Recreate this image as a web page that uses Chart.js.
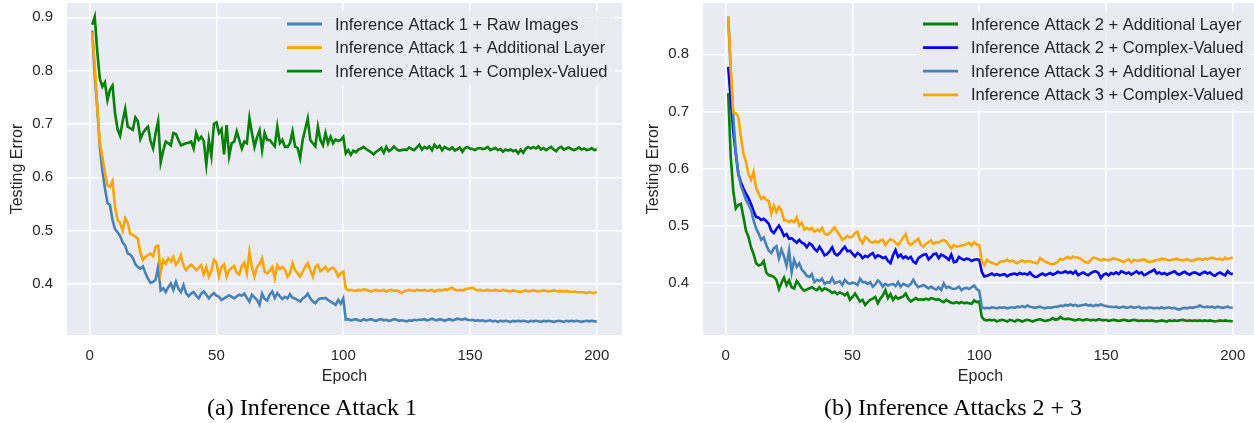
<!DOCTYPE html>
<html>
<head>
<meta charset="utf-8">
<script src="https://cdn.jsdelivr.net/npm/chart.js@4.4.0/dist/chart.umd.min.js"></script>
<style>
  body { margin: 0; width: 1254px; height: 423px; overflow: hidden; background: #fff; position: relative; }
  .panel { position: absolute; top: 0; width: 625px; height: 395px; }
  .caption { position: absolute; top: 395px; font-family: "Liberation Serif", serif; font-size: 24px; line-height: 24px; color: #000; white-space: nowrap; transform: translateX(-50%); }
</style>
</head>
<body>
<div class="panel" style="left:0"><canvas id="chartA" width="625" height="395"></canvas></div>
<div class="panel" style="left:636px"><canvas id="chartB" width="625" height="395"></canvas></div>
<div class="caption" style="left:312px">(a) Inference Attack 1</div>
<div class="caption" style="left:953px">(b) Inference Attacks 2 + 3</div>
<script>
// Data

const epochs = Array.from({ length: 200 }, (_, i) => i + 1)
const xTicks = [0, 50, 100, 150, 200]
const yTicksA = [0.4, 0.5, 0.6, 0.7, 0.8, 0.9]
const yTicksB = [0.4, 0.5, 0.6, 0.7, 0.8]

const labelsA = ['Inference Attack 1 + Raw Images', 'Inference Attack 1 + Additional Layer', 'Inference Attack 1 + Complex-Valued']
const labelsB = ['Inference Attack 2 + Additional Layer', 'Inference Attack 2 + Complex-Valued', 'Inference Attack 3 + Additional Layer', 'Inference Attack 3 + Complex-Valued']

const attack1Raw = [
  0.875, 0.79, 0.73, 0.657, 0.612, 0.58, 0.552, 0.548, 0.52, 0.503,
  0.497, 0.49, 0.478, 0.472, 0.457, 0.455, 0.449, 0.437, 0.432, 0.429,
  0.433, 0.42, 0.41, 0.402, 0.404, 0.408, 0.432, 0.388, 0.392, 0.385,
  0.394, 0.401, 0.389, 0.404, 0.391, 0.385, 0.398, 0.383, 0.377, 0.382,
  0.385, 0.378, 0.373, 0.382, 0.386, 0.38, 0.373, 0.379, 0.383, 0.378,
  0.376, 0.37, 0.373, 0.376, 0.379, 0.376, 0.373, 0.377, 0.38, 0.378,
  0.382, 0.374, 0.367, 0.38, 0.375, 0.37, 0.361, 0.382, 0.372, 0.369,
  0.38, 0.386, 0.374, 0.383, 0.377, 0.372, 0.376, 0.373, 0.381, 0.374,
  0.373, 0.37, 0.367, 0.373, 0.376, 0.382, 0.373, 0.367, 0.364, 0.37,
  0.373, 0.373, 0.374, 0.37, 0.367, 0.364, 0.361, 0.37, 0.363, 0.373,
  0.333, 0.334, 0.332, 0.333, 0.334, 0.332, 0.331, 0.334, 0.332, 0.333,
  0.334, 0.332, 0.331, 0.333, 0.334, 0.332, 0.333, 0.331, 0.332, 0.334,
  0.333, 0.331, 0.332, 0.331, 0.33, 0.332, 0.331, 0.333, 0.332, 0.333,
  0.333, 0.334, 0.332, 0.333, 0.335, 0.333, 0.332, 0.334, 0.333, 0.331,
  0.333, 0.334, 0.332, 0.333, 0.335, 0.334, 0.333, 0.335, 0.333, 0.332,
  0.333, 0.331, 0.332, 0.331, 0.332, 0.33, 0.331, 0.332, 0.33, 0.331,
  0.329, 0.331, 0.33, 0.331, 0.33, 0.329, 0.331, 0.33, 0.331, 0.33,
  0.331, 0.33, 0.329, 0.331, 0.33, 0.331, 0.33, 0.329, 0.331, 0.33,
  0.331, 0.33, 0.329, 0.33, 0.331, 0.33, 0.329, 0.331, 0.33, 0.331,
  0.33, 0.331, 0.33, 0.329, 0.33, 0.331, 0.33, 0.331, 0.33, 0.33
]

const attack1Layer = [
  0.873, 0.81, 0.73, 0.665, 0.638, 0.61, 0.585, 0.582, 0.593, 0.545,
  0.52, 0.515, 0.5, 0.523, 0.515, 0.494, 0.492, 0.489, 0.485, 0.458,
  0.445, 0.451, 0.454, 0.457, 0.452, 0.47, 0.472, 0.421, 0.445, 0.438,
  0.448, 0.442, 0.451, 0.436, 0.443, 0.454, 0.434, 0.426, 0.432, 0.436,
  0.432, 0.426, 0.43, 0.435, 0.418, 0.432, 0.414, 0.425, 0.445, 0.44,
  0.414, 0.432, 0.437, 0.414, 0.426, 0.43, 0.434, 0.421, 0.418, 0.433,
  0.44, 0.42, 0.46, 0.431, 0.414, 0.432, 0.437, 0.448, 0.423, 0.42,
  0.425, 0.432, 0.411, 0.435, 0.428, 0.432, 0.427, 0.414, 0.42, 0.439,
  0.426, 0.42, 0.414, 0.423, 0.432, 0.439, 0.426, 0.414, 0.432, 0.436,
  0.424, 0.427, 0.432, 0.424, 0.429, 0.431, 0.425, 0.414, 0.42, 0.423,
  0.392, 0.388, 0.389, 0.388, 0.387, 0.389, 0.388, 0.39, 0.389, 0.388,
  0.386, 0.388, 0.389, 0.387, 0.388, 0.389, 0.386, 0.388, 0.389, 0.387,
  0.388, 0.386, 0.383, 0.386, 0.388, 0.389, 0.388, 0.387, 0.389, 0.388,
  0.388, 0.389, 0.387, 0.388, 0.389, 0.386, 0.388, 0.389, 0.388, 0.39,
  0.389, 0.391, 0.393, 0.389, 0.388, 0.389, 0.388, 0.39, 0.391, 0.392,
  0.393, 0.39, 0.388, 0.389, 0.387, 0.388, 0.389, 0.387, 0.388, 0.389,
  0.388, 0.387, 0.389, 0.388, 0.387, 0.386, 0.388, 0.387, 0.386, 0.385,
  0.387, 0.388, 0.386, 0.387, 0.388, 0.387, 0.386, 0.387, 0.388, 0.387,
  0.386, 0.387, 0.388, 0.387, 0.386, 0.387, 0.386, 0.387, 0.386, 0.385,
  0.386, 0.385, 0.384, 0.385, 0.384, 0.383, 0.385, 0.384, 0.383, 0.385
]

const attack1Complex = [
  0.886, 0.901, 0.835, 0.785, 0.77, 0.778, 0.745, 0.764, 0.772, 0.72,
  0.69, 0.678, 0.705, 0.728, 0.695, 0.692, 0.689, 0.712, 0.705, 0.672,
  0.683, 0.69, 0.695, 0.668, 0.654, 0.683, 0.705, 0.628, 0.65, 0.667,
  0.664, 0.66, 0.683, 0.681, 0.67, 0.66, 0.662, 0.664, 0.665, 0.667,
  0.654, 0.683, 0.67, 0.676, 0.668, 0.624, 0.67, 0.64, 0.7, 0.703,
  0.683, 0.69, 0.643, 0.698, 0.64, 0.664, 0.667, 0.686, 0.67, 0.654,
  0.667, 0.664, 0.711, 0.683, 0.657, 0.675, 0.688, 0.651, 0.683, 0.67,
  0.67, 0.664, 0.658, 0.695, 0.664, 0.67, 0.657, 0.657, 0.664, 0.686,
  0.658, 0.655, 0.636, 0.67, 0.69, 0.71, 0.67, 0.664, 0.658, 0.695,
  0.67, 0.66, 0.683, 0.664, 0.676, 0.664, 0.671, 0.668, 0.67, 0.676,
  0.645, 0.651, 0.642, 0.65, 0.647, 0.652, 0.654, 0.657, 0.653, 0.65,
  0.647, 0.643, 0.648, 0.651, 0.655, 0.646, 0.657, 0.649, 0.652, 0.658,
  0.653, 0.65, 0.651, 0.652, 0.651, 0.656, 0.653, 0.651, 0.656, 0.661,
  0.652, 0.657, 0.654, 0.658, 0.651, 0.661, 0.655, 0.659, 0.651, 0.657,
  0.654, 0.652, 0.656, 0.65, 0.653, 0.656, 0.648, 0.655, 0.657, 0.654,
  0.653, 0.651, 0.654, 0.655, 0.653, 0.654, 0.657, 0.651, 0.653, 0.655,
  0.651, 0.653, 0.648, 0.652, 0.65, 0.652, 0.649, 0.651, 0.645, 0.652,
  0.646, 0.654, 0.657, 0.654, 0.657, 0.654, 0.658, 0.652, 0.655, 0.651,
  0.654, 0.657, 0.652, 0.649, 0.655, 0.657, 0.652, 0.654, 0.656, 0.653,
  0.651, 0.653, 0.656, 0.652, 0.654, 0.651, 0.652, 0.655, 0.651, 0.652
]

const attack2Layer = [
  0.732, 0.62, 0.56, 0.53, 0.536, 0.538, 0.515, 0.491, 0.48, 0.462,
  0.45, 0.434, 0.43, 0.432, 0.438, 0.418, 0.413, 0.412, 0.41, 0.405,
  0.389, 0.4, 0.409, 0.396, 0.404, 0.392, 0.39, 0.403, 0.397, 0.39,
  0.386, 0.388, 0.39, 0.392, 0.389, 0.387, 0.392, 0.386, 0.39, 0.388,
  0.386, 0.382, 0.384, 0.38, 0.383, 0.381, 0.378, 0.382, 0.37, 0.375,
  0.381, 0.374, 0.367, 0.37, 0.361, 0.366, 0.37, 0.372, 0.375, 0.364,
  0.372, 0.378, 0.387, 0.373, 0.38, 0.37, 0.376, 0.372, 0.374, 0.376,
  0.381, 0.372, 0.367, 0.37, 0.373, 0.37, 0.371, 0.37, 0.372, 0.37,
  0.373, 0.372, 0.37, 0.371, 0.368, 0.366, 0.37, 0.367, 0.365, 0.364,
  0.366, 0.364, 0.366, 0.364, 0.365, 0.364, 0.363, 0.369, 0.366, 0.367,
  0.34, 0.335, 0.334, 0.335, 0.334, 0.335, 0.332, 0.334, 0.335, 0.334,
  0.332, 0.335, 0.334, 0.332, 0.335, 0.334, 0.332, 0.334, 0.335, 0.334,
  0.332, 0.334, 0.335, 0.336, 0.334, 0.333, 0.334, 0.335, 0.338, 0.335,
  0.336, 0.34, 0.337, 0.336, 0.337, 0.336, 0.335, 0.334, 0.336, 0.335,
  0.334, 0.336, 0.335, 0.334, 0.335, 0.334, 0.336, 0.335, 0.334, 0.335,
  0.333, 0.334, 0.335, 0.334, 0.333, 0.334, 0.335, 0.334, 0.333, 0.334,
  0.335, 0.334, 0.333, 0.334, 0.333, 0.334, 0.333, 0.334, 0.333, 0.332,
  0.333, 0.334, 0.333, 0.332, 0.334, 0.333, 0.334, 0.333, 0.334, 0.335,
  0.334, 0.333, 0.334, 0.333, 0.334, 0.333, 0.334, 0.333, 0.334, 0.333,
  0.334, 0.333, 0.332, 0.333, 0.334, 0.333, 0.334, 0.333, 0.333, 0.332
]

const attack2Complex = [
  0.778, 0.72, 0.665, 0.625, 0.59, 0.576, 0.565, 0.556, 0.548, 0.538,
  0.525, 0.515, 0.514, 0.51, 0.512, 0.508, 0.503, 0.491, 0.487, 0.494,
  0.5, 0.492, 0.482, 0.485, 0.477, 0.478, 0.474, 0.47, 0.475, 0.47,
  0.468, 0.462, 0.469, 0.466, 0.459, 0.455, 0.463, 0.456, 0.448, 0.45,
  0.455, 0.462, 0.451, 0.448, 0.452, 0.458, 0.463, 0.455, 0.456, 0.451,
  0.446, 0.452, 0.449, 0.443, 0.447, 0.445, 0.449, 0.452, 0.444, 0.448,
  0.446, 0.443, 0.445, 0.438, 0.434, 0.448, 0.457, 0.445, 0.449, 0.443,
  0.446, 0.442, 0.445, 0.437, 0.434, 0.443, 0.446, 0.449, 0.45, 0.441,
  0.445, 0.45, 0.451, 0.443, 0.449, 0.447, 0.444, 0.44, 0.449, 0.436,
  0.437, 0.445, 0.442, 0.44, 0.442, 0.441, 0.438, 0.44, 0.441, 0.44,
  0.419, 0.411, 0.412, 0.414, 0.416, 0.413, 0.415, 0.413, 0.414, 0.415,
  0.411, 0.414, 0.415, 0.416, 0.414, 0.417, 0.415, 0.416, 0.414, 0.418,
  0.413, 0.41, 0.411, 0.414, 0.416, 0.413, 0.415, 0.417, 0.414, 0.416,
  0.419, 0.417, 0.418, 0.42, 0.417, 0.419, 0.416, 0.42, 0.413, 0.416,
  0.418, 0.415, 0.413, 0.417, 0.419, 0.42, 0.417, 0.408, 0.414, 0.416,
  0.413, 0.417, 0.415, 0.418, 0.415, 0.42, 0.418, 0.416, 0.418, 0.414,
  0.417, 0.42, 0.416, 0.418, 0.413, 0.415, 0.418, 0.42, 0.423, 0.416,
  0.418, 0.415, 0.417, 0.414, 0.416, 0.418, 0.42, 0.416, 0.414, 0.417,
  0.419, 0.416, 0.414, 0.417, 0.418, 0.416, 0.414, 0.417, 0.419, 0.416,
  0.418, 0.414, 0.412, 0.416, 0.418, 0.415, 0.413, 0.42, 0.416, 0.415
]

const attack3Layer = [
  0.866, 0.77, 0.69, 0.628, 0.592, 0.57, 0.558, 0.545, 0.537, 0.528,
  0.509, 0.495, 0.486, 0.475, 0.479, 0.466, 0.456, 0.452, 0.46, 0.464,
  0.443, 0.458, 0.446, 0.43, 0.456, 0.418, 0.44, 0.428, 0.434, 0.423,
  0.418, 0.412, 0.41, 0.415, 0.401, 0.405, 0.403, 0.407, 0.398, 0.401,
  0.4, 0.408, 0.399, 0.401, 0.402, 0.396, 0.405, 0.4, 0.398, 0.4,
  0.399, 0.396, 0.407, 0.401, 0.401, 0.398, 0.401, 0.393, 0.397, 0.404,
  0.4, 0.393, 0.398, 0.395, 0.397, 0.398, 0.394, 0.401, 0.393, 0.398,
  0.396, 0.394, 0.398, 0.405, 0.397, 0.392, 0.394, 0.396, 0.393, 0.39,
  0.393, 0.39, 0.388, 0.392, 0.387, 0.399, 0.391, 0.393, 0.39, 0.389,
  0.39, 0.393, 0.387, 0.39, 0.391, 0.389, 0.392, 0.395, 0.389, 0.386,
  0.357, 0.355, 0.356, 0.355, 0.357, 0.356, 0.355, 0.357, 0.356, 0.357,
  0.355, 0.356, 0.357, 0.356, 0.358, 0.357, 0.359, 0.357, 0.36, 0.358,
  0.357, 0.356, 0.357, 0.358, 0.356, 0.355, 0.357, 0.356, 0.357, 0.358,
  0.358, 0.36, 0.359, 0.361, 0.36, 0.362, 0.36, 0.361, 0.359, 0.36,
  0.361, 0.362, 0.36, 0.361, 0.359, 0.361, 0.36, 0.362, 0.36, 0.359,
  0.358, 0.358, 0.357, 0.358, 0.356, 0.357, 0.358, 0.356, 0.357, 0.358,
  0.356, 0.357, 0.358, 0.355, 0.356, 0.355, 0.357, 0.356, 0.355, 0.356,
  0.355, 0.357, 0.355, 0.356, 0.357, 0.355, 0.356, 0.354, 0.353, 0.355,
  0.356, 0.355, 0.357, 0.356, 0.357, 0.358, 0.36, 0.358, 0.357, 0.358,
  0.357, 0.358, 0.356, 0.358, 0.357, 0.356, 0.357, 0.358, 0.356, 0.356
]

const attack3Complex = [
  0.866, 0.775, 0.698, 0.697, 0.69, 0.655, 0.626, 0.612, 0.59, 0.58,
  0.594, 0.566, 0.556, 0.547, 0.55, 0.545, 0.543, 0.521, 0.535, 0.524,
  0.533, 0.527, 0.509, 0.509, 0.506, 0.509, 0.506, 0.514, 0.5, 0.505,
  0.493, 0.496, 0.493, 0.496, 0.489, 0.493, 0.49, 0.496, 0.486, 0.484,
  0.487, 0.492, 0.497, 0.489, 0.483, 0.475, 0.478, 0.482, 0.479, 0.481,
  0.487, 0.489, 0.475, 0.469, 0.48, 0.477, 0.472, 0.47, 0.473, 0.47,
  0.474, 0.475, 0.466, 0.472, 0.476, 0.474, 0.47, 0.466, 0.472, 0.479,
  0.485, 0.47, 0.466, 0.47, 0.474, 0.477, 0.466, 0.463, 0.468, 0.471,
  0.474, 0.468, 0.471, 0.47, 0.473, 0.475, 0.472, 0.466, 0.46, 0.466,
  0.463, 0.464, 0.465, 0.466, 0.468, 0.47, 0.465, 0.471, 0.467, 0.466,
  0.437, 0.431, 0.44, 0.437, 0.435, 0.433, 0.431, 0.436, 0.437, 0.438,
  0.44, 0.437, 0.439, 0.436, 0.434, 0.437, 0.439, 0.436, 0.438, 0.437,
  0.436, 0.435, 0.434, 0.443, 0.44, 0.437, 0.435, 0.433, 0.432, 0.434,
  0.437, 0.442, 0.44, 0.443, 0.445, 0.442, 0.446, 0.444, 0.444, 0.442,
  0.438, 0.436, 0.435, 0.44, 0.444, 0.443, 0.441, 0.439, 0.441, 0.44,
  0.439, 0.441, 0.443, 0.441, 0.44, 0.438, 0.436, 0.439, 0.441, 0.436,
  0.44, 0.439, 0.438, 0.44, 0.441, 0.438, 0.436, 0.437, 0.438, 0.44,
  0.44, 0.442, 0.441, 0.44, 0.439, 0.44, 0.441, 0.442, 0.44, 0.439,
  0.44, 0.441, 0.439, 0.438, 0.44, 0.441, 0.442, 0.44, 0.442, 0.441,
  0.443, 0.444, 0.442, 0.441, 0.442, 0.44, 0.444, 0.441, 0.443, 0.444
]

// Style

const SANS = '"Liberation Sans", Arial, sans-serif'
const TEXT = '#262626'
const STEEL = '#4682b4'
const ORANGE = '#ffa500'
const GREEN = '#008000'
const BLUE = '#0000ff'

// seaborn-ish axes background
const panelBackground = {
  id: 'panelBackground',
  beforeDraw(chart) {
    const { ctx, chartArea: a } = chart
    ctx.save()
    ctx.fillStyle = '#eaeaf2'
    ctx.fillRect(a.left, a.top, a.right - a.left, a.bottom - a.top)
    ctx.restore()
  }
}

// legend drawn like matplotlib: box in the upper right, handle + label per row
const legendBox = {
  id: 'legendBox',
  afterDatasetsDraw(chart) {
    const { ctx } = chart
    const sets = chart.data.datasets
    const rowH = 23.6
    const top = 11
    const left = 280
    const right = 615
    const bottom = 24 + rowH * (sets.length - 1) + 15
    ctx.save()
    ctx.fillStyle = 'rgba(234,234,242,0.8)'
    ctx.beginPath()
    ctx.roundRect(left, top, right - left, bottom - top, 3)
    ctx.fill()
    ctx.font = '16.5px ' + SANS
    ctx.textBaseline = 'middle'
    ctx.textAlign = 'left'
    sets.forEach((ds, i) => {
      const y = 24 + rowH * i
      ctx.strokeStyle = ds.borderColor
      ctx.lineWidth = 2.8
      ctx.beginPath()
      ctx.moveTo(287, y)
      ctx.lineTo(322, y)
      ctx.stroke()
      ctx.fillStyle = TEXT
      ctx.fillText(ds.label, 335, y + 1)
    })
    ctx.restore()
  }
}

function makeChart(id, labels, series, colors, yTicks, yMin, yMax) {
  return new Chart(document.getElementById(id), {
    type: 'line',
    data: {
      datasets: series.map((values, i) => ({
        label: labels[i],
        data: values.map((v, k) => ({ x: epochs[k], y: v })),
        borderColor: colors[i],
        borderWidth: 2.6,
        pointRadius: 0,
        fill: false,
        tension: 0,
        order: series.length - i
      }))
    },
    options: {
      responsive: false,
      animation: false,
      events: [],
      layout: { padding: { top: 3, right: 3, left: 0, bottom: 0 } },
      plugins: { legend: { display: false }, tooltip: { enabled: false } },
      scales: {
        x: {
          type: 'linear',
          min: -8.95,
          max: 209.95,
          afterBuildTicks: s => { s.ticks = xTicks.map(v => ({ value: v })) },
          afterFit: s => { s.height = 60; s.paddingLeft = 0; s.paddingRight = 0 },
          grid: { color: '#ffffff', lineWidth: 1.5, drawTicks: false },
          border: { display: false },
          ticks: { padding: 12, color: TEXT, font: { family: SANS, size: 15 }, maxRotation: 0, callback: v => String(v) },
          title: { display: true, text: 'Epoch', color: TEXT, font: { family: SANS, size: 16 }, padding: { top: 0, bottom: 8.4 } }
        },
        y: {
          type: 'linear',
          min: yMin,
          max: yMax,
          afterBuildTicks: s => { s.ticks = yTicks.map(v => ({ value: v })) },
          afterFit: s => { s.width = 67; s.paddingTop = 0; s.paddingBottom = 0 },
          grid: { color: '#ffffff', lineWidth: 1.5, drawTicks: false },
          border: { display: false },
          ticks: { padding: 14, color: TEXT, font: { family: SANS, size: 15 }, callback: v => v.toFixed(1) },
          title: { display: true, text: 'Testing Error', color: TEXT, font: { family: SANS, size: 16 }, padding: { top: 7.7, bottom: 0 } }
        }
      }
    },
    plugins: [panelBackground, legendBox]
  })
}

makeChart('chartA', labelsA, [attack1Raw, attack1Layer, attack1Complex], [STEEL, ORANGE, GREEN], yTicksA, 0.3044, 0.9268)
makeChart('chartB', labelsB, [attack2Layer, attack2Complex, attack3Layer, attack3Complex], [GREEN, BLUE, STEEL, ORANGE], yTicksB, 0.3084, 0.8898)
</script>
</body>
</html>
